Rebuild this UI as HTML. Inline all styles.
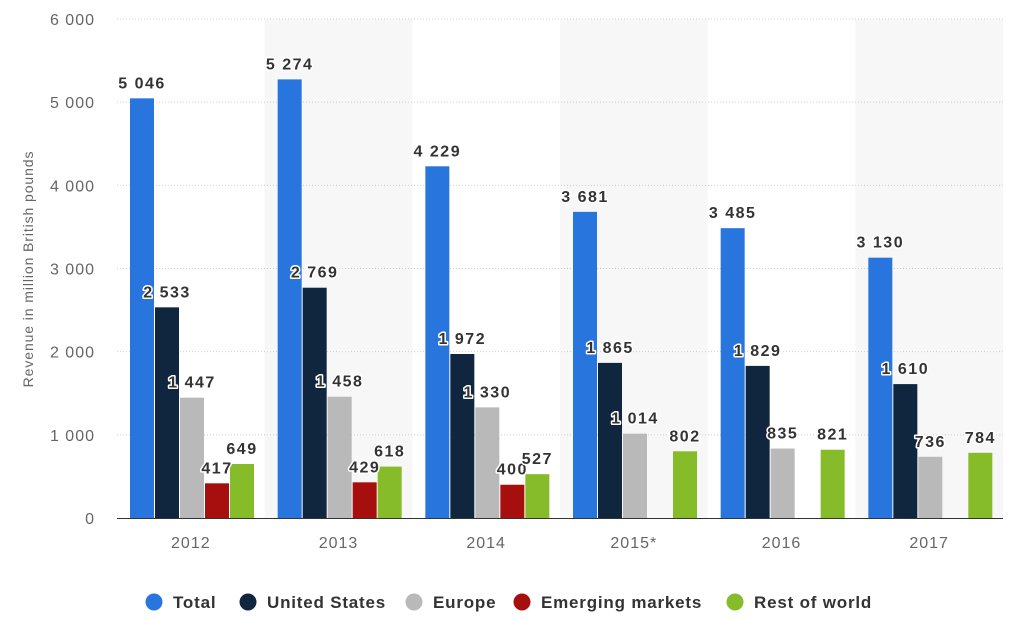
<!DOCTYPE html>
<html><head><meta charset="utf-8"><style>
html,body{margin:0;padding:0;background:#fff;width:1020px;height:620px;overflow:hidden}
svg{font-family:"Liberation Sans","DejaVu Sans",sans-serif}
</style></head><body>
<svg id="chart" width="1020" height="620"></svg>
<script>
const categories=["2012","2013","2014","2015*","2016","2017"];
const totalVals=[5046,5274,4229,3681,3485,3130];
const usVals=[2533,2769,1972,1865,1829,1610];
const europeVals=[1447,1458,1330,1014,835,736];
const emergingVals=[417,429,400,null,null,null];
const rowVals=[649,618,527,802,821,784];
const yTicks=[0,1000,2000,3000,4000,5000,6000];
const seriesNames=["Total","United States","Europe","Emerging markets","Rest of world"];
const seriesColors=["#2876dd","#10263f","#b9b9b9","#a70f0f","#86bb2a"];
const seriesData=[totalVals,usVals,europeVals,emergingVals,rowVals];

const NS="http://www.w3.org/2000/svg";
const svg=document.getElementById('chart');
const X0=117,X1=1003,Y0=518,Y6=19;
const gw=(X1-X0)/categories.length;
const y=v=>Y0-(v/6000)*(Y0-Y6);
const fmt=v=>{const s=String(v);return s.length>3?s.slice(0,-3)+" "+s.slice(-3):s;};
function mk(t,a){const e=document.createElementNS(NS,t);for(const k in a)e.setAttribute(k,a[k]);svg.appendChild(e);return e;}

categories.forEach((c,i)=>{if(i%2===1){const r=mk('rect',{x:X0+i*gw,y:Y6,width:gw,height:Y0-Y6,fill:'#f7f7f7'});

}});

yTicks.forEach(t=>{
 if(t>0){const l=mk('line',{x1:X0,x2:X1,y1:y(t),y2:y(t),stroke:'#cfcfcf','stroke-dasharray':'1,2'});
 
 }
 const tx=mk('text',{x:95,y:y(t)+6,'text-anchor':'end','font-size':'16','letter-spacing':'1',fill:'#666'});tx.textContent=fmt(t);
 
 
});
const yt=mk('text',{x:0,y:0,transform:'translate(33,269) rotate(-90)','text-anchor':'middle','font-size':'14','letter-spacing':'0.9',fill:'#666'});
yt.textContent='Revenue in million British pounds';



const labels=[];
categories.forEach((c,i)=>{
 const gx=X0+i*gw+13;
 seriesData.forEach((arr,s)=>{
  const v=arr[i]; if(v==null) return;
  const bx=gx+s*25;
  const r=mk('rect',{x:bx,y:y(v),width:24,height:Y0-y(v),fill:seriesColors[s]});
  
  
  labels.push([bx+12,y(v)-10,fmt(v),c,s]);
 });
 const xl=mk('text',{x:X0+i*gw+gw/2,y:548,'text-anchor':'middle','font-size':'16','letter-spacing':'1',fill:'#666'});xl.textContent=c;
 
 
});
labels.forEach(([lx,ly,t,c,s])=>{
 const e=mk('text',{x:lx,y:ly,'text-anchor':'middle','font-size':'16','font-weight':'bold','letter-spacing':'1.5',fill:'#333',stroke:'#fff','stroke-width':'3','paint-order':'stroke','stroke-linejoin':'round'});
 e.textContent=t;
 
 
});
const ax=mk('line',{x1:X0,x2:X1,y1:Y0+0.5,y2:Y0+0.5,stroke:'#333','stroke-width':'1'});



const legX=[154,248,414,522,735];
seriesNames.forEach((n,s)=>{
 const c=mk('circle',{cx:legX[s],cy:602,r:8.5,fill:seriesColors[s]});
 
 
 const t=mk('text',{x:legX[s]+19,y:608,'font-size':'17','font-weight':'bold','letter-spacing':'0.8',fill:'#333'});t.textContent=n;
 
 
});
</script>
</body></html>
